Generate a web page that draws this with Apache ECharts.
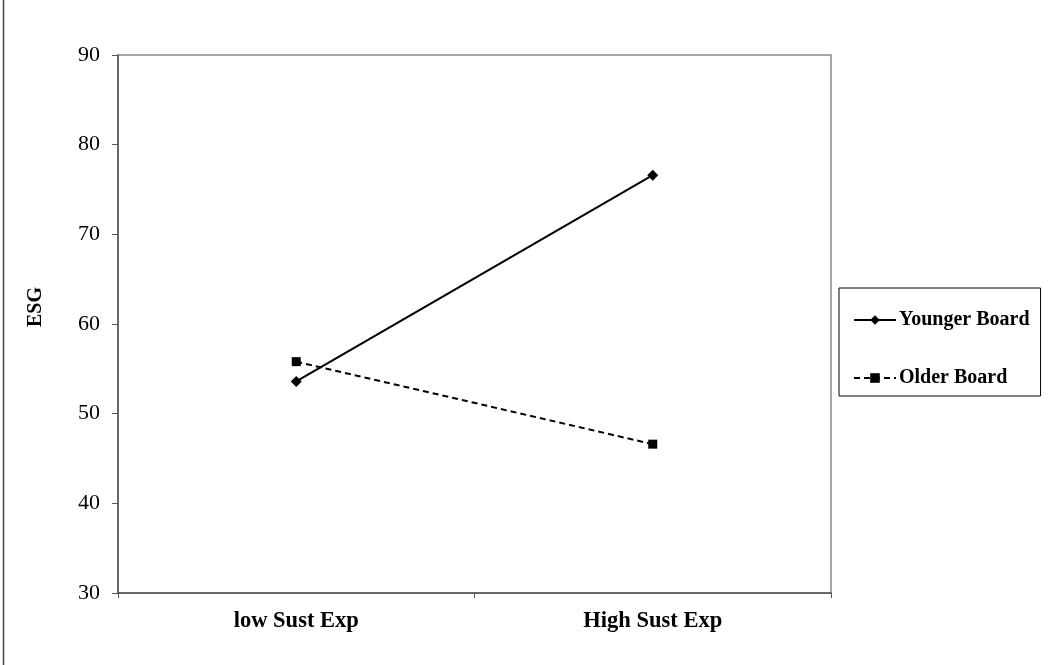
<!DOCTYPE html>
<html><head><meta charset="utf-8">
<script src="https://cdn.jsdelivr.net/npm/echarts@6/dist/echarts.min.js"></script>
<style>html,body{margin:0;padding:0;background:#fff}#c{width:1051px;height:665px}</style>
</head><body><div id="c"></div>
<script>
const categories = ['low Sust Exp', 'High Sust Exp'];
const youngerBoard = [53.6, 76.6];
const olderBoard = [55.8, 46.6];
const yTicks = { min: 30, max: 90, interval: 10 };

const chart = echarts.init(document.getElementById('c'));
const serif = '"Liberation Serif", "Times New Roman", serif';
chart.setOption({
  backgroundColor: '#fff',
  animation: false,
  grid: { left: 118, top: 55, width: 713, height: 538, show: true, borderColor: '#8a8a8a', borderWidth: 1.5, containLabel: false },
  xAxis: {
    type: 'category', data: categories, boundaryGap: true,
    axisLine: { lineStyle: { color: '#555', width: 1.5 } },
    axisTick: { show: true, length: 5, lineStyle: { color: '#555' } },
    axisLabel: { fontFamily: serif, fontWeight: 'bold', fontSize: 22.5, color: '#000', margin: 17 }
  },
  yAxis: {
    type: 'value', min: yTicks.min, max: yTicks.max, interval: yTicks.interval,
    name: 'ESG', nameLocation: 'middle', nameGap: 72, nameRotate: 90,
    nameTextStyle: { fontFamily: serif, fontWeight: 'bold', fontSize: 20, color: '#000', padding: [0, 0, 0, 34] },
    splitLine: { show: false },
    axisLine: { show: true, lineStyle: { color: '#555', width: 1.5 } },
    axisTick: { show: true, length: 6, lineStyle: { color: '#555' } },
    axisLabel: { fontFamily: serif, fontSize: 22, color: '#000', margin: 18 }
  },
  legend: {
    orient: 'vertical', left: 839, top: 288,
    padding: [22, 11, 8, 14], itemGap: 38, itemWidth: 42, itemHeight: 12,
    borderColor: '#000', borderWidth: 1, backgroundColor: '#fff',
    textStyle: { fontFamily: serif, fontWeight: 'bold', fontSize: 20, color: '#000', padding: [0, 0, 0, -2] },
    data: ['Younger Board', 'Older Board']
  },
  graphic: [{ type: 'line', shape: { x1: 3.5, y1: 0, x2: 3.5, y2: 665 }, style: { stroke: '#444', lineWidth: 1.5 } }],
  series: [
    { name: 'Younger Board', type: 'line', data: youngerBoard, symbol: 'diamond', symbolSize: 11,
      lineStyle: { color: '#000', width: 2 }, itemStyle: { color: '#000' } },
    { name: 'Older Board', type: 'line', data: olderBoard, symbol: 'rect', symbolSize: 9,
      lineStyle: { color: '#000', width: 2, type: [6, 4] }, itemStyle: { color: '#000' } }
  ]
});
</script></body></html>
